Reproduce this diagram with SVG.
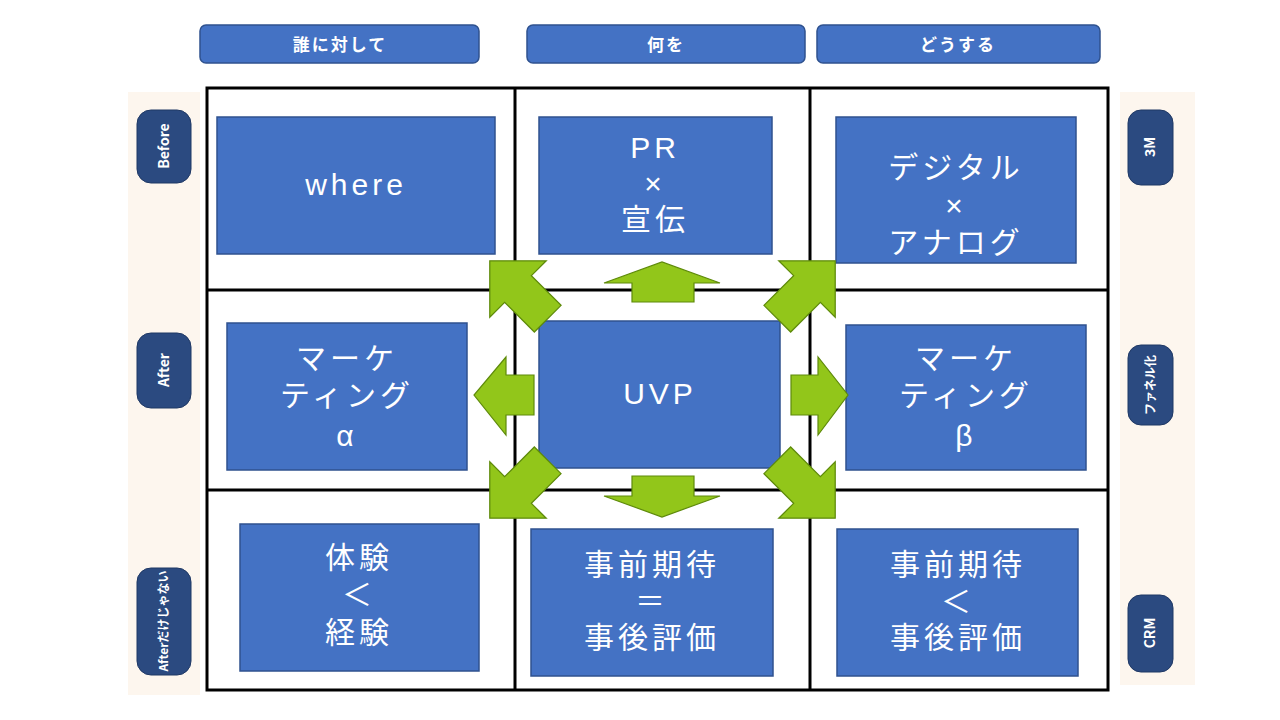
<svg xmlns="http://www.w3.org/2000/svg" width="1280" height="720" viewBox="0 0 1280 720">
<style>
.hdr{fill:#4472C4;stroke:#2F528F;stroke-width:1.5}
.ht{fill:#fff;font:bold 17px "Noto Sans CJK JP","Noto Sans",sans-serif;text-anchor:middle;letter-spacing:2px}
.pill{fill:#2B4A80;stroke:#1F3864;stroke-width:1}
.pt{fill:#fff;font:bold 14px "Liberation Sans Narrow","Noto Sans CJK JP",sans-serif;text-anchor:middle}
.box{fill:#4472C4;stroke:#2F528F;stroke-width:1.5}
.bt{fill:#fff;font:30px "Liberation Sans","Noto Sans CJK JP",sans-serif;text-anchor:middle;letter-spacing:4px}
.ar{fill:#92C61A;stroke:#5E8A0A;stroke-width:1.2}
.grid{fill:none;stroke:#000;stroke-width:3}
</style>
<defs>
<polygon id="arr" points="-40,-18 0,-18 0,-38 38,0 0,38 0,18 -40,18"/>
</defs>
<rect width="1280" height="720" fill="#fff"/>
<rect x="128" y="92" width="72" height="603" fill="#FDF6EE"/>
<rect x="1120" y="92" width="75" height="593" fill="#FDF6EE"/>
<g id="headers">
<g id="h1"><rect class="hdr" x="200" y="25" width="279" height="38" rx="6"/><text class="ht" x="340" y="51">誰に対して</text></g>
<g id="h2"><rect class="hdr" x="527" y="25" width="278" height="38" rx="6"/><text class="ht" x="666" y="51">何を</text></g>
<g id="h3"><rect class="hdr" x="817" y="25" width="283" height="38" rx="6"/><text class="ht" x="958" y="51">どうする</text></g>
</g>
<g id="sides">
<g id="s1"><rect class="pill" x="137" y="110" width="54" height="73" rx="14"/><text class="pt" transform="translate(169,146) rotate(-90)">Before</text></g>
<g id="s2"><rect class="pill" x="137" y="333" width="54" height="75" rx="14"/><text class="pt" transform="translate(169,370) rotate(-90)">After</text></g>
<g id="s3"><rect class="pill" x="137" y="568" width="54" height="107" rx="14"/><text class="pt" style="font-size:12px" transform="translate(168,621) rotate(-90)">Afterだけじゃない</text></g>
<g id="s4"><rect class="pill" x="1128" y="110" width="45" height="75" rx="13"/><text class="pt" transform="translate(1155,147) rotate(-90)">3M</text></g>
<g id="s5"><rect class="pill" x="1128" y="345" width="45" height="80" rx="13"/><text class="pt" style="font-size:12px" transform="translate(1155,385) rotate(-90)">ファネル化</text></g>
<g id="s6"><rect class="pill" x="1128" y="595" width="45" height="77" rx="13"/><text class="pt" transform="translate(1155,633) rotate(-90)">CRM</text></g>
</g>
<g id="grid">
<rect class="grid" x="207" y="88" width="901" height="602"/>
<line class="grid" x1="515" y1="88" x2="515" y2="690"/>
<line class="grid" x1="810" y1="88" x2="810" y2="690"/>
<line class="grid" x1="207" y1="290" x2="1108" y2="290"/>
<line class="grid" x1="207" y1="490" x2="1108" y2="490"/>
</g>
<g id="n1"><rect class="box" x="217" y="117" width="278" height="137"/><text class="bt" x="356" y="195">where</text></g>
<g id="n2"><rect class="box" x="539" y="117" width="233" height="137"/><text class="bt" x="655" y="158">PR</text><text class="bt" x="655" y="194">×</text><text class="bt" x="655" y="230">宣伝</text></g>
<g id="n3"><rect class="box" x="836" y="117" width="240" height="146"/><text class="bt" x="956" y="178">デジタル</text><text class="bt" x="956" y="216">×</text><text class="bt" x="956" y="253">アナログ</text></g>
<g id="n4"><rect class="box" x="227" y="323" width="240" height="147"/><text class="bt" x="347" y="369">マーケ</text><text class="bt" x="347" y="406">ティング</text><text class="bt" x="347" y="446" font-style="italic">α</text></g>
<g id="n5"><rect class="box" x="539" y="321" width="241" height="147"/><text class="bt" x="660" y="404">UVP</text></g>
<g id="n6"><rect class="box" x="846" y="325" width="240" height="145"/><text class="bt" x="966" y="369">マーケ</text><text class="bt" x="966" y="406">ティング</text><text class="bt" x="966" y="446" font-style="italic">β</text></g>
<g id="n7"><rect class="box" x="240" y="524" width="239" height="147"/><text class="bt" x="359" y="568">体験</text><text class="bt" x="359" y="605">＜</text><text class="bt" x="359" y="643">経験</text></g>
<g id="n8"><rect class="box" x="531" y="529" width="242" height="147"/><text class="bt" x="652" y="575">事前期待</text><text class="bt" x="652" y="612">＝</text><text class="bt" x="652" y="648">事後評価</text></g>
<g id="n9"><rect class="box" x="837" y="529" width="241" height="147"/><text class="bt" x="958" y="575">事前期待</text><text class="bt" x="958" y="612">＜</text><text class="bt" x="958" y="648">事後評価</text></g>
<g id="connectors">
<polygon class="ar" points="632,302 632,283 604,283 662,262 720,283 694,283 694,302"/>
<polygon class="ar" points="632,476 632,496 604,496 662,517 720,496 694,496 694,476"/>
<polygon class="ar" points="534,375 506,375 506,357 474,395 506,435 506,415 534,415"/>
<polygon class="ar" points="791,375 818,375 818,357 848,395 818,435 818,415 791,415"/>
<use href="#arr" class="ar" transform="translate(518,289) rotate(-135) scale(1.05)"/>
<use href="#arr" class="ar" transform="translate(807,289) rotate(-45) scale(1.05)"/>
<use href="#arr" class="ar" transform="translate(518,490) rotate(135) scale(1.05)"/>
<use href="#arr" class="ar" transform="translate(807,490) rotate(45) scale(1.05)"/>
</g>
</svg>
